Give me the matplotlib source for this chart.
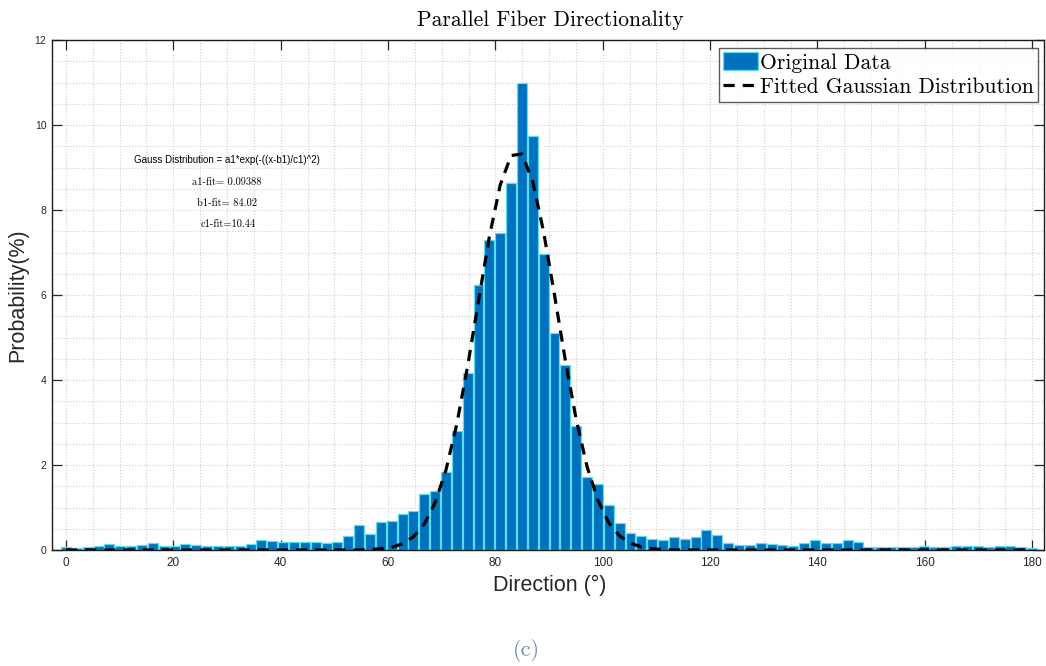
import matplotlib
matplotlib.use('Agg')
import matplotlib.pyplot as plt
from matplotlib.ticker import MultipleLocator
import numpy as np

# bin centres (MATLAB hist with 90 centres over 0..180)
centers = np.linspace(0, 180, 90)

prob = [0.06, 0.04, 0.06, 0.09, 0.14, 0.10, 0.10, 0.12, 0.16, 0.10,
        0.10, 0.14, 0.12, 0.10, 0.09, 0.10, 0.10, 0.13, 0.24, 0.22,
        0.19, 0.19, 0.19, 0.19, 0.16, 0.18, 0.34, 0.59, 0.38, 0.67,
        0.69, 0.85, 0.92, 1.32, 1.40, 1.84, 2.81, 4.16, 6.24, 7.29,
        7.47, 8.64, 11.0, 9.73, 6.96, 5.10, 4.35, 2.92, 1.71, 1.55,
        1.05, 0.63, 0.41, 0.33, 0.25, 0.24, 0.30, 0.25, 0.31, 0.47,
        0.35, 0.16, 0.12, 0.12, 0.16, 0.13, 0.11, 0.10, 0.16, 0.24,
        0.17, 0.16, 0.24, 0.19, 0.08, 0.08, 0.06, 0.06, 0.08, 0.10,
        0.06, 0.08, 0.10, 0.09, 0.09, 0.08, 0.09, 0.10, 0.08, 0.04]

fit = [0.0] * 28 + [0.01, 0.03, 0.06, 0.15, 0.31, 0.61, 1.11, 1.88, 2.96, 4.33,
                    5.86, 7.37, 8.59, 9.28, 9.32, 8.67, 7.48, 6.00, 4.46, 3.07,
                    1.96, 1.17, 0.64, 0.33, 0.16, 0.07, 0.03, 0.01] + [0.0] * 34

xticks = list(range(0, 181, 20))
yticks = list(range(0, 13, 2))

W, H = 1046, 666
fig = plt.figure(figsize=(W / 100, H / 100), dpi=100)
ax = fig.add_axes([52 / W, 116 / H, 992 / W, 510 / H])

sans = 'Liberation Sans'
cm = 'cmr10'

step = centers[1] - centers[0]
bars = ax.bar(centers, prob, width=step * 0.92, color='#0072BD',
              edgecolor='#5CDDF2', linewidth=0.9, label='Original Data', zorder=2)
line, = ax.plot(centers, fit, color='black', lw=2.3, linestyle=(0, (3.5, 2.5)),
                label='Fitted Gaussian Distribution', zorder=3)

ax.set_xlim(-2.6, 182.2)
ax.set_ylim(0, 12)
ax.set_xticks(xticks)
ax.set_yticks(yticks)
ax.xaxis.set_minor_locator(MultipleLocator(5))
ax.yaxis.set_minor_locator(MultipleLocator(0.5))
ax.tick_params(which='major', direction='in', length=7, width=0.9,
               top=True, right=True, colors='#262626')
ax.tick_params(which='minor', length=0)
ax.tick_params(axis='x', labelsize=8.5, pad=5)
ax.tick_params(axis='y', labelsize=7.5, pad=4)
for lab in ax.get_xticklabels() + ax.get_yticklabels():
    lab.set_fontfamily(sans)
ax.grid(which='both', linestyle=':', color='#cfcfcf', lw=0.8)
ax.set_axisbelow(True)
for s in ax.spines.values():
    s.set_color('#1a1a1a')
    s.set_linewidth(1.0)

leg = ax.legend([bars, line], ['Original Data', 'Fitted Gaussian Distribution'],
                loc='upper right', bbox_to_anchor=(0.994, 0.984),
                borderaxespad=0, frameon=True, fancybox=False,
                prop={'family': cm, 'size': 15.5}, handlelength=1.6,
                handleheight=0.9, handletextpad=0.1, labelspacing=0.2,
                borderpad=0.2)
leg.get_frame().set_edgecolor('#333333')
leg.get_frame().set_linewidth(1.0)

def fx(px):
    return px / W

def fy(py):
    return 1 - py / H

fig.text(fx(550), fy(20), 'Parallel Fiber Directionality', family=cm,
         fontsize=15.5, ha='center', va='center')
fig.text(fx(18), fy(295), 'Probability(%)', family=sans, fontsize=15.5,
         rotation=90, ha='center', va='center', color='#262626')
fig.text(fx(550), fy(585), 'Direction (°)', family=sans, fontsize=15.5,
         ha='center', va='center', color='#262626')

fig.text(fx(227), fy(160), 'Gauss Distribution = a1*exp(-((x-b1)/c1)^2)',
         family=sans, fontsize=7, ha='center', va='center')
fig.text(fx(227), fy(182), 'a1-fit= 0.09388', family=cm, fontsize=7.5,
         ha='center', va='center')
fig.text(fx(227), fy(203), 'b1-fit= 84.02', family=cm, fontsize=7.5,
         ha='center', va='center')
fig.text(fx(228), fy(224), 'c1-fit=10.44', family=cm, fontsize=7.5,
         ha='center', va='center')

fig.text(fx(526), fy(650), '(c)', family=cm, fontsize=16,
         ha='center', va='center', color='#6A90B8')

fig.savefig('out.png', dpi=100)
